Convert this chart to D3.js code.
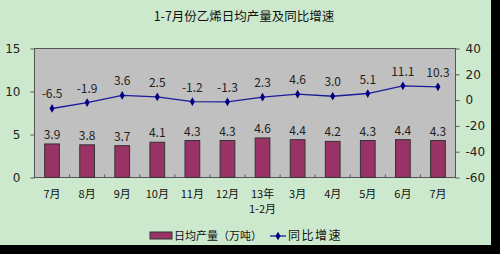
<!DOCTYPE html>
<html>
<head>
<meta charset="utf-8">
<script src="https://cdn.jsdelivr.net/npm/d3@7"></script>
<style>
body{margin:0;background:#000;}
svg{display:block;font-family:"Noto Sans CJK SC","DejaVu Sans",sans-serif;}
</style>
</head>
<body>
<svg width="500" height="254"></svg>
<script>
const categories = ["7月","8月","9月","10月","11月","12月","13年\n1-2月","3月","4月","5月","6月","7月"]
const output = [3.9,3.8,3.7,4.1,4.3,4.3,4.6,4.4,4.2,4.3,4.4,4.3]
const growth = [-6.5,-1.9,3.6,2.5,-1.2,-1.3,2.3,4.6,3.0,5.1,11.1,10.3]
const leftTicks = [0,5,10,15]
const rightTicks = [-60,-40,-20,0,20,40]

const svg = d3.select("svg")
svg.append("rect").attr("width",491).attr("height",245).attr("fill","#cde9cd")

const margin = {left:34.5, top:48.5, right:455.5, bottom:177.5}
const w = margin.right - margin.left
const h = margin.bottom - margin.top

svg.append("text").attr("x",244).attr("y",21).attr("text-anchor","middle")
    .attr("font-size",12.5).attr("fill","#111").text("1-7月份乙烯日均产量及同比增速")

const g = svg.append("g").attr("transform","translate("+margin.left+","+margin.top+")")

const x = d3.scaleBand().domain(d3.range(categories.length)).range([0,w]).paddingInner(0.58).paddingOuter(0.29)
const yL = d3.scaleLinear().domain([0,15]).range([h,0])
const yR = d3.scaleLinear().domain([-60,40]).range([h,0])

g.append("rect").attr("width",w).attr("height",h).attr("fill","#c0c0c0")
    .attr("stroke","#555").attr("stroke-width",1)

// category boundary ticks along the bottom
const step = w / categories.length
g.append("g").selectAll("line").data(d3.range(1,categories.length)).join("line")
    .attr("x1",d=>d*step).attr("x2",d=>d*step).attr("y1",h).attr("y2",h-3)
    .attr("stroke","#555")

g.append("g").selectAll("rect").data(output).join("rect")
    .attr("x",(d,i)=>x(i)).attr("width",x.bandwidth())
    .attr("y",d=>yL(d)).attr("height",d=>h-yL(d))
    .attr("fill","#993366").attr("stroke","#333").attr("stroke-width",1)

g.append("g").selectAll("text").data(output).join("text")
    .attr("x",(d,i)=>x(i)+x.bandwidth()/2).attr("y",d=>yL(d)-5)
    .attr("text-anchor","middle").attr("font-size",12).attr("fill","#222")
    .text(d=>d.toFixed(1))

const cx = i => x(i)+x.bandwidth()/2
g.append("path").datum(growth)
    .attr("d",d3.line().x((d,i)=>cx(i)).y(d=>yR(d)))
    .attr("fill","none").attr("stroke","#1a1a9a").attr("stroke-width",1.3)

g.append("g").selectAll("path").data(growth).join("path")
    .attr("transform",(d,i)=>"translate("+cx(i)+","+yR(d)+")")
    .attr("d",d3.symbol(d3.symbolDiamond,22)).attr("fill","#000080")

g.append("g").selectAll("text").data(growth).join("text")
    .attr("x",(d,i)=>cx(i)).attr("y",d=>yR(d)-10)
    .attr("text-anchor","middle").attr("font-size",12).attr("fill","#222")
    .text(d=>d.toFixed(1))

// axes, plain hyphen minus like the original
const axL = g.append("g").call(d3.axisLeft(yL).tickValues(leftTicks).tickFormat(d=>String(d)).tickSize(4).tickPadding(10))
const axR = g.append("g").attr("transform","translate("+w+",0)")
    .call(d3.axisRight(yR).tickValues(rightTicks).tickFormat(d=>String(d)).tickSize(4).tickPadding(6))
;[axL,axR].forEach(a=>{
    a.select(".domain").remove()
    a.selectAll("line").attr("stroke","#555")
    a.selectAll("text").attr("font-size",12).attr("fill","#222").attr("font-family","DejaVu Sans, sans-serif")
})

// x labels
const xl = g.append("g").selectAll("text").data(categories).join("text")
    .attr("x",(d,i)=>cx(i)).attr("y",h+20)
    .attr("text-anchor","middle").attr("font-size",11).attr("fill","#111")
xl.each(function(d){
    const lines = d.split("\n")
    d3.select(this).selectAll("tspan").data(lines).join("tspan")
        .attr("x",d3.select(this).attr("x")).attr("dy",(l,j)=>j?15:0).text(l=>l)
})

// legend
const lg = svg.append("g")
lg.append("rect").attr("x",150).attr("y",232).attr("width",22).attr("height",7)
    .attr("fill","#993366").attr("stroke","#333")
lg.append("text").attr("x",174).attr("y",240).attr("font-size",11).attr("fill","#111").text("日均产量（万吨）")
lg.append("line").attr("x1",270).attr("x2",286).attr("y1",236).attr("y2",236).attr("stroke","#1a1a9a").attr("stroke-width",1.3)
lg.append("path").attr("transform","translate(278,236)").attr("d",d3.symbol(d3.symbolDiamond,22)).attr("fill","#000080")
lg.append("text").attr("x",288).attr("y",240).attr("font-size",12).attr("letter-spacing",1.5).attr("fill","#111").text("同比增速")
</script>
</body>
</html>
